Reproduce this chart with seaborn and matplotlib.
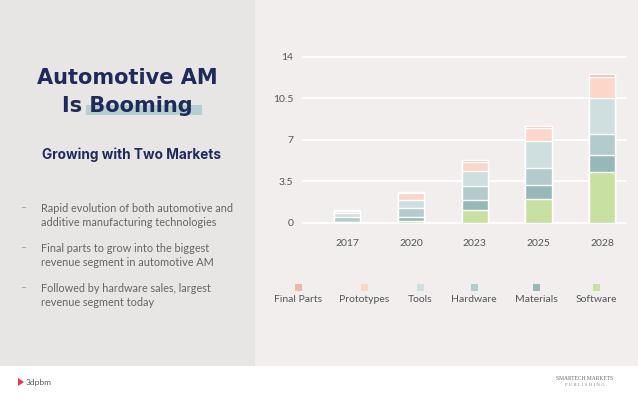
import matplotlib
matplotlib.use("Agg")
import matplotlib.pyplot as plt
from matplotlib.patches import Rectangle, Polygon
import numpy as np
import pandas as pd
import seaborn as sns

# Chart values (billions USD, stacked)
years = ["2017", "2020", "2023", "2025", "2028"]
software = [0.03, 0.18, 1.10, 1.96, 4.30]
materials = [0.07, 0.30, 0.85, 1.24, 1.40]
hardware = [0.38, 0.80, 1.12, 1.40, 1.80]
tools = [0.30, 0.65, 1.30, 2.30, 3.00]
prototypes = [0.22, 0.56, 0.78, 1.12, 1.82]
final_parts = [0.04, 0.06, 0.10, 0.14, 0.20]

y_ticks = [0, 3.5, 7, 10.5, 14]
y_tick_labels = ["0", "3.5", "7", "10.5", "14"]

# bottom -> top stacking order
segments = ["Software", "Materials", "Hardware", "Tools", "Prototypes", "Final Parts"]
colors = {
    "Software": "#c8e1a3",
    "Materials": "#97b8b9",
    "Hardware": "#b3cbcc",
    "Tools": "#cfdedf",
    "Prototypes": "#fbd6c9",
    "Final Parts": "#f0b7a2",
}
legend_order = ["Final Parts", "Prototypes", "Tools", "Hardware", "Materials", "Software"]

df = pd.DataFrame({
    "Year": years,
    "Software": software,
    "Materials": materials,
    "Hardware": hardware,
    "Tools": tools,
    "Prototypes": prototypes,
    "Final Parts": final_parts,
})

navy = "#1f2a5c"
grey = "#666666"
sns.set_theme(style="white")
plt.rcParams["font.family"] = ["Lato", "DejaVu Sans"]

fig = plt.figure(figsize=(6.38, 3.98), dpi=100)
fig.patch.set_facecolor("white")

# slide panels
fig.patches.append(Rectangle((0, 32 / 398), 255 / 638, 1, transform=fig.transFigure,
                             facecolor="#e8e6e5", edgecolor="none", zorder=0))
fig.patches.append(Rectangle((255 / 638, 32 / 398), 1, 1, transform=fig.transFigure,
                             facecolor="#f2eeee", edgecolor="none", zorder=0))

ax = fig.add_axes([303 / 638, 175.3 / 398, 323 / 638, 166 / 398])
ax.set_zorder(5)
ax.set_facecolor("#f2eeee")

# stacked bars: draw cumulative totals from the top layer down
cum = df[segments].cumsum(axis=1)
for seg in reversed(segments):
    sns.barplot(x=df["Year"], y=cum[seg], color=colors[seg], width=0.41,
                saturation=1, ax=ax, zorder=3)

ax.set_ylim(0, 14)
ax.set_xlim(-0.69, 4.37)
ax.set_yticks(y_ticks)
ax.set_yticklabels(y_tick_labels)
ax.yaxis.grid(True, color="white", linewidth=1.3, zorder=1)
ax.set_axisbelow(True)
for sp in ax.spines.values():
    sp.set_visible(False)
ax.set_xlabel("")
ax.set_ylabel("")
ax.tick_params(axis="y", length=0, pad=7, labelsize=7.5, labelcolor="#555555")
ax.tick_params(axis="x", length=0, pad=11.5, labelsize=7.5, labelcolor="#555555")
for g in ax.yaxis.get_gridlines():
    g.set_clip_on(False)

# legend: square above each label
leg_x = [298, 364, 420, 474, 536, 596]
for name, lx in zip(legend_order, leg_x):
    fig.patches.append(Rectangle(((lx - 3.5) / 638, 1 - 290.5 / 398), 7 / 638, 7 / 398,
                                 transform=fig.transFigure, facecolor=colors[name],
                                 edgecolor="none", zorder=2))
    fig.text(lx / 638, 1 - 299 / 398, name, ha="center", va="center",
             fontsize=7.5, color="#555555")

# left panel text
title_font = ["DejaVu Sans"]
fig.patches.append(Rectangle((86 / 638, 1 - 115 / 398), 116 / 638, 10 / 398,
                             transform=fig.transFigure, facecolor="#b5cfd0",
                             edgecolor="none", zorder=1))
fig.text(127 / 638, 1 - 83.5 / 398, "Automotive AM", ha="center", va="baseline",
         fontsize=15, fontweight="bold", color=navy, family=title_font, zorder=3)
fig.text(127 / 638, 1 - 111.5 / 398, "Is Booming", ha="center", va="baseline",
         fontsize=15, fontweight="bold", color=navy, family=title_font, zorder=3)
fig.text(131 / 638, 1 - 158.5 / 398, "Growing with Two Markets", ha="center", va="baseline",
         fontsize=9.8, fontweight="bold", color=navy, family=["Inter", "DejaVu Sans"])

bullets = [
    ("Rapid evolution of both automotive and", "additive manufacturing technologies"),
    ("Final parts to grow into the biggest", "revenue segment in automotive AM"),
    ("Followed by hardware sales, largest", "revenue segment today"),
]
for i, (l1, l2) in enumerate(bullets):
    y0 = 208 + i * 40
    fig.text(20 / 638, 1 - y0 / 398, "–", ha="left", va="center", fontsize=7.5, color="#999999")
    fig.text(41 / 638, 1 - y0 / 398, l1, ha="left", va="center", fontsize=7.8, color=grey)
    fig.text(41 / 638, 1 - (y0 + 14) / 398, l2, ha="left", va="center", fontsize=7.8, color=grey)

# footer
fig.patches.append(Polygon([[18 / 638, 1 - 378 / 398], [24 / 638, 1 - 382 / 398],
                            [18 / 638, 1 - 386 / 398]], closed=True,
                           transform=fig.transFigure, facecolor="#e8344e", edgecolor="none"))
fig.text(26 / 638, 1 - 382 / 398, "3dpbm", ha="left", va="center", fontsize=6, color="#555555")
fig.text(585 / 638, 1 - 378 / 398, "SMARTECH MARKETS", ha="center", va="center",
         fontsize=4, color="#666666", family=["Liberation Serif", "DejaVu Serif"])
fig.text(585 / 638, 1 - 385 / 398, "P U B L I S H I N G", ha="center", va="center",
         fontsize=3.5, color="#888888", family=["Liberation Serif", "DejaVu Serif"])

fig.savefig("out.png", dpi=100, facecolor=fig.get_facecolor())
